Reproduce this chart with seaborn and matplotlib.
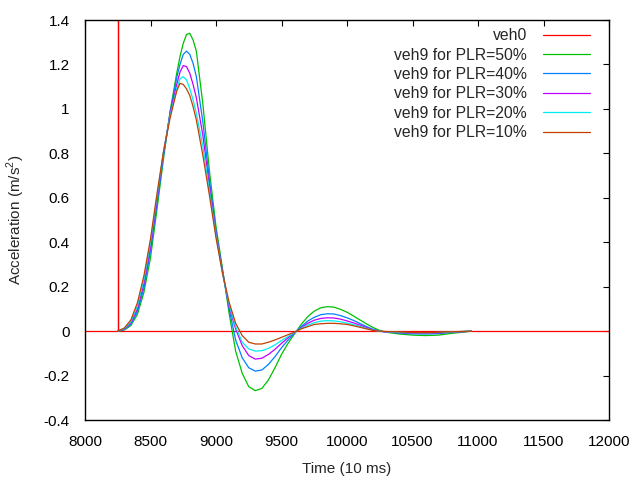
import matplotlib
matplotlib.use("Agg")
import matplotlib.pyplot as plt
import matplotlib.ticker as mticker
import numpy as np
import pandas as pd
import seaborn as sns

# time axis (10 ms units) for the veh9 curves
time = [8250, 8300, 8350, 8400, 8450, 8500, 8550, 8600, 8650, 8700,
        8725, 8750, 8775, 8800, 8825, 8850,
        8900, 8950, 9000, 9050, 9100, 9150, 9200, 9250, 9300, 9350,
        9400, 9450, 9500, 9550, 9600, 9650, 9700, 9750, 9800, 9850,
        9900, 9950, 10000, 10050, 10100, 10150, 10200, 10250, 10300,
        10400, 10500, 10600, 10700, 10800, 10900, 10950]

plr50 = [0, 0.005, 0.025, 0.075, 0.175, 0.33, 0.55, 0.78, 0.99, 1.16,
         1.235, 1.295, 1.335, 1.34, 1.31, 1.26,
         1.02, 0.72, 0.47, 0.28, 0.08, -0.09, -0.19, -0.25, -0.268, -0.258,
         -0.22, -0.165, -0.105, -0.055, -0.012, 0.03, 0.065, 0.09, 0.105, 0.11,
         0.108, 0.098, 0.085, 0.068, 0.05, 0.032, 0.016, 0.003, -0.005,
         -0.013, -0.018, -0.02, -0.018, -0.01, -0.004, 0]

plr40 = [0, 0.007, 0.031, 0.088, 0.195, 0.36, 0.575, 0.79, 0.985, 1.14,
         1.20, 1.245, 1.26, 1.245, 1.205, 1.145,
         0.94, 0.68, 0.45, 0.27, 0.10, -0.04, -0.12, -0.165, -0.18, -0.175,
         -0.15, -0.115, -0.075, -0.04, -0.008, 0.02, 0.045, 0.062, 0.074, 0.078,
         0.077, 0.07, 0.06, 0.048, 0.034, 0.02, 0.008, 0.0, -0.004,
         -0.009, -0.012, -0.013, -0.011, -0.006, -0.002, 0]

plr30 = [0, 0.009, 0.037, 0.1, 0.215, 0.38, 0.595, 0.805, 0.98, 1.11,
         1.165, 1.195, 1.19, 1.16, 1.11, 1.05,
         0.88, 0.65, 0.44, 0.265, 0.11, 0.01, -0.065, -0.11, -0.126, -0.122,
         -0.105, -0.082, -0.055, -0.03, -0.007, 0.015, 0.035, 0.049, 0.057, 0.06,
         0.059, 0.054, 0.046, 0.037, 0.027, 0.016, 0.006, -0.001, -0.004,
         -0.007, -0.009, -0.01, -0.008, -0.005, -0.002, 0]

plr20 = [0, 0.011, 0.043, 0.113, 0.232, 0.40, 0.61, 0.81, 0.97, 1.09,
         1.135, 1.145, 1.13, 1.09, 1.04, 0.98,
         0.83, 0.63, 0.43, 0.26, 0.12, 0.02, -0.05, -0.08, -0.09, -0.088,
         -0.078, -0.062, -0.042, -0.024, -0.006, 0.012, 0.027, 0.038, 0.045, 0.047,
         0.046, 0.042, 0.036, 0.029, 0.021, 0.012, 0.004, -0.001, -0.003,
         -0.006, -0.007, -0.008, -0.006, -0.004, -0.001, 0]

plr10 = [0, 0.014, 0.05, 0.127, 0.25, 0.415, 0.62, 0.81, 0.96, 1.08,
         1.115, 1.11, 1.09, 1.06, 1.01, 0.95,
         0.79, 0.61, 0.42, 0.26, 0.13, 0.035, -0.02, -0.05, -0.058, -0.058,
         -0.05, -0.04, -0.028, -0.016, -0.004, 0.01, 0.02, 0.03, 0.033, 0.035,
         0.035, 0.033, 0.03, 0.024, 0.017, 0.01, 0.003, 0.0, -0.002,
         -0.004, -0.006, -0.007, -0.005, -0.003, -0.001, 0]

# leading vehicle: flat at zero with a single spike (clipped by the axis)
veh0_time = [8000, 8250, 8250, 8250, 12000]
veh0_acc = [0, 0, 3.0, 0, 0]

labels = ["veh0", "veh9 for PLR=50%", "veh9 for PLR=40%", "veh9 for PLR=30%",
          "veh9 for PLR=20%", "veh9 for PLR=10%"]
colors = ["#ff0000", "#00c000", "#0080ff", "#c000ff", "#00eeee", "#c04000"]

frames = [pd.DataFrame({"time": veh0_time, "acc": veh0_acc, "series": labels[0]})]
for lab, vals in zip(labels[1:], [plr50, plr40, plr30, plr20, plr10]):
    frames.append(pd.DataFrame({"time": time, "acc": vals, "series": lab}))
df = pd.concat(frames, ignore_index=True)

sns.set_style("white")
plt.rcParams["font.family"] = ["Liberation Sans", "DejaVu Sans"]
plt.rcParams["mathtext.fontset"] = "custom"
plt.rcParams["mathtext.rm"] = "Liberation Sans"

fig = plt.figure(figsize=(6.4, 4.8), dpi=100)
ax = fig.add_axes([85 / 640, 60 / 480, 524 / 640, 400 / 480])

sns.lineplot(data=df, x="time", y="acc", hue="series", hue_order=labels,
             palette=colors, estimator=None, sort=False, linewidth=0.9, ax=ax)

ax.set_xlim(8000, 12000)
ax.set_ylim(-0.4, 1.4)
ax.xaxis.set_major_locator(mticker.MultipleLocator(500))
ax.yaxis.set_major_locator(mticker.MultipleLocator(0.2))
ax.yaxis.set_major_formatter(mticker.FuncFormatter(lambda v, p: "%g" % round(v, 2)))
ax.tick_params(direction="in", top=True, right=True, length=4, width=0.8,
               labelsize=11, colors="black")
ax.tick_params(axis="y", pad=11)
ax.tick_params(axis="x", pad=11)
for s in ax.spines.values():
    s.set_color("black")
    s.set_linewidth(1)

ax.set_xlabel("Time (10 ms)", fontsize=11, labelpad=9)
ax.set_ylabel("Acceleration (m/s$^{2}$)", fontsize=11, labelpad=12)

leg = ax.get_legend()
handles = leg.legend_handles
ax.legend(handles, labels, loc="upper right", frameon=False, markerfirst=False,
          fontsize=11.3, handlelength=2.95, handletextpad=1.05, labelspacing=0.28,
          borderaxespad=0.5, bbox_to_anchor=(0.99, 1.015))

fig.savefig("out.png", dpi=100)
